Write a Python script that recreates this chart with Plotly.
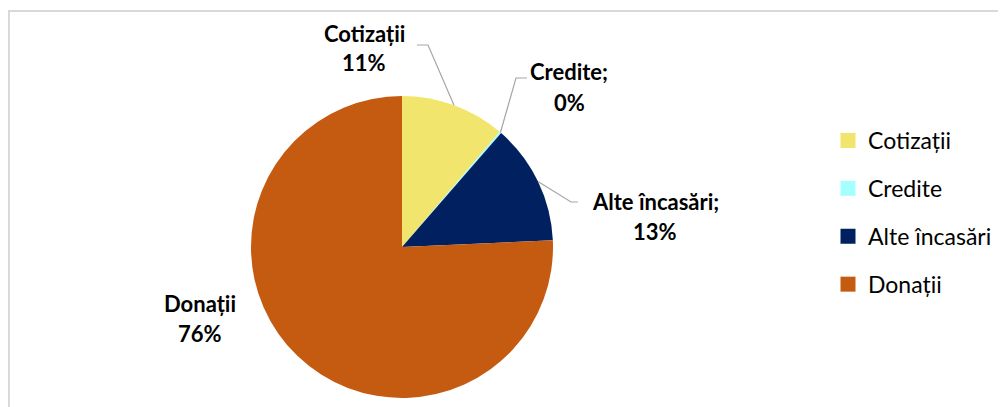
import numpy as np
import plotly.graph_objects as go

# ---- data ----
categories = ["Cotizații", "Credite", "Alte încasări", "Donații"]
values = [11.2, 0.2, 12.9, 75.7]
colors = ["#F1E56D", "#A6FFFF", "#002060", "#C55A11"]
label_sep = ["", ";", ";", ""]

W, H = 1006, 407
OFF = 8  # page body margin of the browser
# pie geometry in pixels (screen)
cx, cy, R = 402, 247, 151

def px(x):
    return (x - OFF) / W

def py(y):
    return 1 - (y - OFF) / H

fig = go.Figure()
fig.add_trace(go.Pie(
    labels=categories, values=values, sort=False, direction="clockwise",
    rotation=0, marker=dict(colors=colors, line=dict(width=0)),
    textinfo="none", hoverinfo="label+percent", showlegend=False,
    domain=dict(x=[px(cx - R), px(cx + R)], y=[py(cy + R), py(cy - R)]),
))

# legend via dummy traces so spacing can be controlled
for i, (c, col) in enumerate(zip(categories, colors)):
    fig.add_trace(go.Scatter(
        x=[None], y=[None], mode="markers", name=c, legendgroup=c,
        marker=dict(symbol="square", size=15, color=col),
    ))

# label geometry derived from values
vals = np.array(values)
frac = vals / vals.sum()
cum = np.concatenate([[0], np.cumsum(frac)])
mid = (cum[:-1] + cum[1:]) / 2 * 2 * np.pi  # clockwise from 12 o'clock
edge_x = cx + R * np.sin(mid)
edge_y = cy - R * np.cos(mid)
pct = [f"{int(round(f * 100))}%" for f in frac]

# label placement (pixel centre of label block) and leader elbows
label_pos = [(364, 48), (569, 87), (655, 216), (200, 318)]
leader = [
    [(428, 45), (417, 45)],
    [(516, 78), (527, 78)],
    [(571, 202), (578, 202)],
    None,
]

font_lbl = dict(family="Lato", size=22, color="#000000")
annotations = []
shapes = []
for i, c in enumerate(categories):
    lx, ly = label_pos[i]
    annotations.append(dict(x=px(lx), y=py(ly - 15), xref="paper", yref="paper",
                            text=f"<b>{c}{label_sep[i]}</b>", showarrow=False,
                            font=font_lbl, xanchor="center", yanchor="middle"))
    annotations.append(dict(x=px(lx), y=py(ly + 15), xref="paper", yref="paper",
                            text=f"<b>{pct[i]}</b>", showarrow=False,
                            font=font_lbl, xanchor="center", yanchor="middle"))
    if leader[i]:
        pts = [(edge_x[i], edge_y[i])] + leader[i]
        path = "M " + " L ".join(f"{px(x):.5f},{py(y):.5f}" for x, y in pts)
        shapes.append(dict(type="path", path=path, xref="paper", yref="paper",
                           line=dict(color="#A6A6A6", width=1.2)))

# chart-area border (top and left visible)
shapes.append(dict(type="line", xref="paper", yref="paper", x0=px(8), x1=1.0,
                   y0=py(11), y1=py(11), line=dict(color="#D9D9D9", width=2)))
shapes.append(dict(type="line", xref="paper", yref="paper", x0=px(9), x1=px(9),
                   y0=py(10), y1=0, line=dict(color="#D9D9D9", width=2)))

fig.update_layout(
    width=W, height=H, margin=dict(l=0, r=0, t=0, b=0),
    paper_bgcolor="white", plot_bgcolor="white",
    xaxis=dict(visible=False), yaxis=dict(visible=False),
    annotations=annotations, shapes=shapes,
    legend=dict(x=px(828), y=py(119), xanchor="left", yanchor="top",
                font=dict(family="Lato", size=23, color="#000000"),
                tracegroupgap=15, itemclick=False, bgcolor="rgba(0,0,0,0)"),
)

fig.write_html("out.html")
